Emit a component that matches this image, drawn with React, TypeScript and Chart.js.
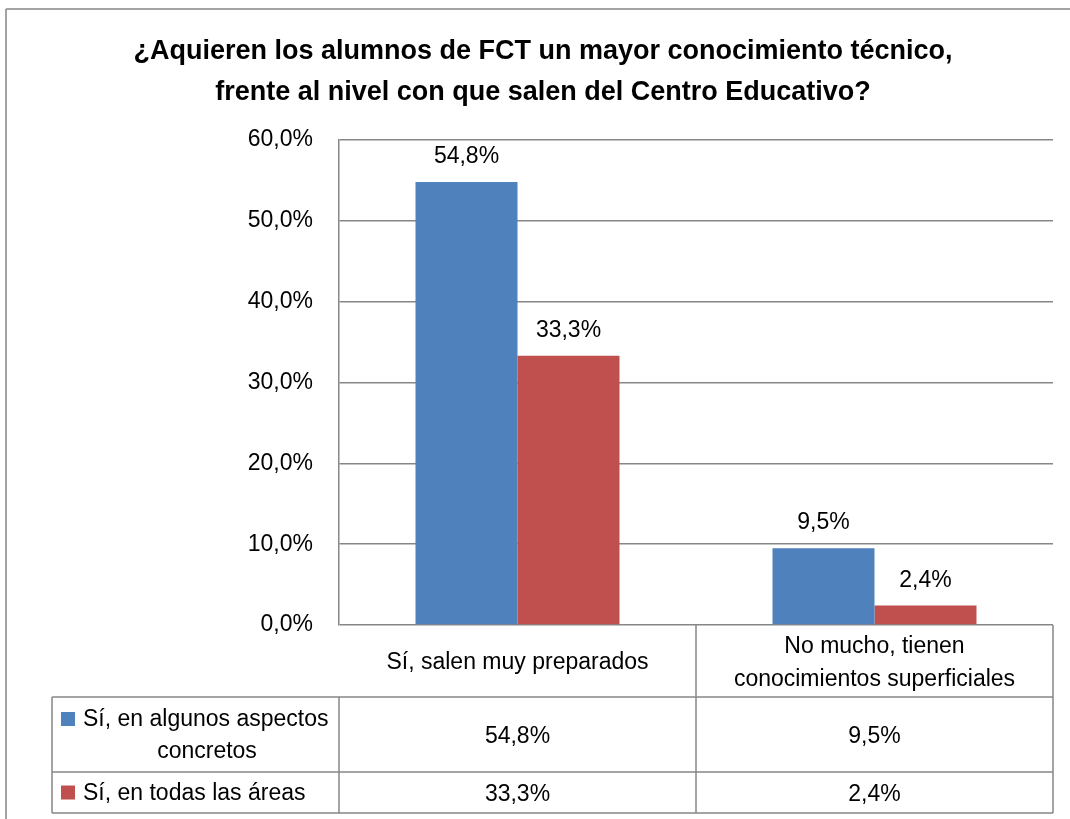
import React, { useEffect, useRef } from "react";
import { Chart, registerables } from "chart.js";

Chart.register(...registerables);

const titleLines = [
  "¿Aquieren los alumnos de FCT un mayor conocimiento técnico,",
  "frente al nivel con que salen del Centro Educativo?",
];
const categories: string[][] = [
  ["Sí, salen muy preparados"],
  ["No mucho, tienen", "conocimientos superficiales"],
];
const seriesNames: string[][] = [
  ["Sí, en algunos aspectos", "concretos"],
  ["Sí, en todas las áreas"],
];
const seriesAlgunos = [54.8, 9.5];
const seriesTodas = [33.3, 2.4];
const seriesColors = ["#4F81BD", "#C0504D"];
const yTicks = [0, 10, 20, 30, 40, 50, 60];

const FONT = "'Liberation Sans', Arial, sans-serif";
const LINE = "#878787";

const fmt = (v: number) => v.toFixed(1).replace(".", ",") + "%";

const decorPlugin = {
  id: "decor",
  afterDatasetsDraw(chart: any) {
    const ctx = chart.ctx as CanvasRenderingContext2D;
    const area = chart.chartArea;
    const xs = chart.scales.x;
    ctx.save();
    // data labels
    ctx.fillStyle = "#000";
    ctx.font = `23px ${FONT}`;
    ctx.textAlign = "center";
    ctx.textBaseline = "alphabetic";
    chart.data.datasets.forEach((ds: any, di: number) => {
      const meta = chart.getDatasetMeta(di);
      meta.data.forEach((bar: any, i: number) => {
        ctx.fillText(fmt(ds.data[i]), bar.x, bar.y - 19);
      });
    });

    // title
    ctx.font = `bold 27px ${FONT}`;
    ctx.fillText(titleLines[0], 543, 59);
    ctx.fillText(titleLines[1], 543, 100);

    // outer border (top + left visible)
    ctx.strokeStyle = LINE;
    ctx.lineWidth = 1.5;
    ctx.beginPath();
    ctx.moveTo(6, 9);
    ctx.lineTo(1070, 9);
    ctx.moveTo(6, 9);
    ctx.lineTo(6, 819);
    ctx.stroke();

    // data table
    const n = chart.data.labels.length;
    const half = (xs.getPixelForValue(1) - xs.getPixelForValue(0)) / 2;
    const bounds: number[] = [];
    for (let i = 0; i < n; i++) bounds.push(xs.getPixelForValue(i) - half);
    bounds.push(xs.getPixelForValue(n - 1) + half);
    const top = area.bottom;
    const row1 = top + 72;
    const row2 = row1 + 75;
    const row3 = row2 + 41;
    const tableLeft = 52;
    ctx.beginPath();
    ctx.moveTo(bounds[0], row1);
    ctx.lineTo(bounds[0], row3);
    bounds.slice(1).forEach((b) => {
      ctx.moveTo(b, top);
      ctx.lineTo(b, row3);
    });
    ctx.moveTo(tableLeft, row1);
    ctx.lineTo(tableLeft, row3);
    [row1, row2, row3].forEach((r) => {
      ctx.moveTo(tableLeft, r);
      ctx.lineTo(bounds[n], r);
    });
    ctx.stroke();

    ctx.font = `23px ${FONT}`;
    ctx.fillStyle = "#000";
    ctx.textAlign = "center";
    // category labels
    categories.forEach((lines, i) => {
      const cx = xs.getPixelForValue(i);
      if (lines.length === 1) {
        ctx.fillText(lines[0], cx, top + 44);
      } else {
        lines.forEach((l, k) => ctx.fillText(l, cx, top + 28 + k * 33));
      }
    });
    // series rows
    const rowTops = [row1, row2];
    const rowHeights = [row2 - row1, row3 - row2];
    chart.data.datasets.forEach((ds: any, di: number) => {
      const rt = rowTops[di];
      const rh = rowHeights[di];
      const names = seriesNames[di];
      const mid = rt + rh / 2;
      ctx.fillStyle = seriesColors[di];
      const swY = names.length > 1 ? rt + 15 : mid - 7;
      ctx.fillRect(61, swY, 14, 14);
      ctx.fillStyle = "#000";
      if (names.length > 1) {
        ctx.textAlign = "left";
        ctx.fillText(names[0], 83, rt + 29);
        ctx.textAlign = "center";
        ctx.fillText(names[1], 207, rt + 61);
      } else {
        ctx.textAlign = "left";
        ctx.fillText(names[0], 83, mid + 7);
      }
      ctx.textAlign = "center";
      ds.data.forEach((v: number, i: number) => {
        ctx.fillText(fmt(v), xs.getPixelForValue(i), mid + 8);
      });
    });
    ctx.restore();
  },
};

export default function App() {
  const ref = useRef<HTMLCanvasElement>(null);
  useEffect(() => {
    if (!ref.current) return;
    const chart = new Chart(ref.current, {
      type: "bar",
      data: {
        labels: categories.map((c) => c.join(" ")),
        datasets: [
          {
            label: seriesNames[0].join(" "),
            data: seriesAlgunos,
            backgroundColor: seriesColors[0],
            categoryPercentage: 0.5714,
            barPercentage: 1,
          },
          {
            label: seriesNames[1].join(" "),
            data: seriesTodas,
            backgroundColor: seriesColors[1],
            categoryPercentage: 0.5714,
            barPercentage: 1,
          },
        ],
      },
      options: {
        responsive: false,
        animation: false,
        devicePixelRatio: 1,
        layout: { padding: { left: 0, top: 140, right: 17, bottom: 194 } },
        plugins: {
          legend: { display: false },
          tooltip: { enabled: false },
          title: { display: false },
        },
        scales: {
          x: { type: "category", display: false, grid: { display: false } },
          y: {
            min: 0,
            max: 60,
            afterFit: (s: any) => {
              s.width = 339;
            },
            afterBuildTicks: (s: any) => {
              s.ticks = yTicks.map((v) => ({ value: v }));
            },
            ticks: {
              padding: 26,
              color: "#000",
              font: { family: FONT, size: 23 },
              callback: (v: any) => fmt(Number(v)),
            },
            grid: { color: LINE, lineWidth: 1.5, drawTicks: false },
            border: { display: true, color: LINE, width: 1.5 },
          },
        },
      },
      plugins: [decorPlugin],
    });
    return () => chart.destroy();
  }, []);
  return (
    <div style={{ position: "fixed", left: 0, top: 0, width: 1070, height: 819, background: "#fff" }}>
      <canvas ref={ref} width={1070} height={819} style={{ display: "block" }} />
    </div>
  );
}
